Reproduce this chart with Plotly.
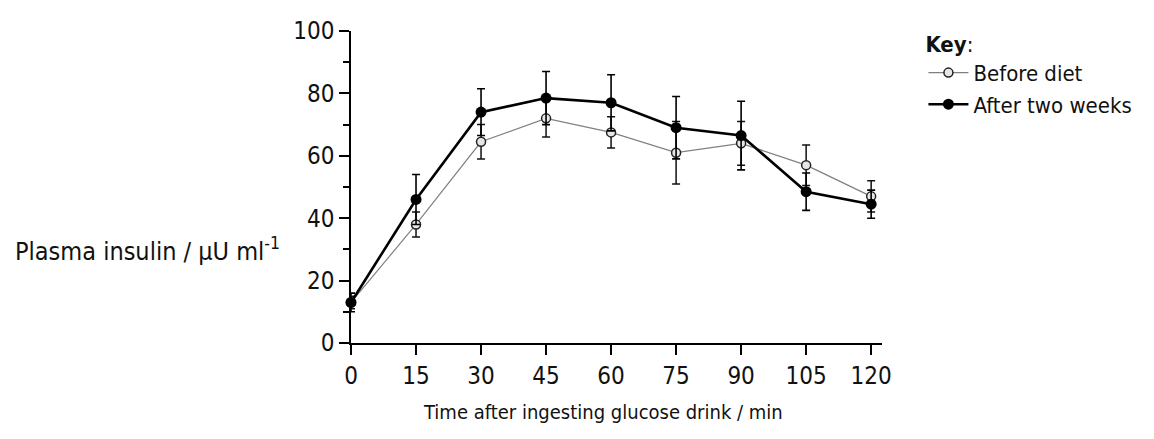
import plotly.graph_objects as go

times = [0, 15, 30, 45, 60, 75, 90, 105, 120]
before_diet = [13, 38, 64.5, 72, 67.5, 61, 64, 57, 47]
before_err = [2, 4, 5.5, 6, 5, 10, 7, 6.5, 5]
after_two_weeks = [13, 46, 74, 78.5, 77, 69, 66.5, 48.5, 44.5]
after_err = [3, 8, 7.5, 8.5, 9, 10, 11, 6, 4.5]
x_ticks = [0, 15, 30, 45, 60, 75, 90, 105, 120]
y_ticks = [0, 20, 40, 60, 80, 100]

FONT = "DejaVu Sans Condensed, Liberation Sans Narrow, sans-serif"

fig = go.Figure()
fig.add_trace(go.Scatter(
    x=times, y=before_diet, name="Before diet", mode="lines+markers",
    line=dict(color="#808080", width=1.2),
    marker=dict(symbol="circle", size=9, color="#e6e6e6", line=dict(color="#222", width=1.5)),
    error_y=dict(type="data", array=before_err, color="#111", thickness=1.5, width=4),
    cliponaxis=False,
))
fig.add_trace(go.Scatter(
    x=times, y=after_two_weeks, name="After two weeks", mode="lines+markers",
    line=dict(color="#000", width=2.6),
    marker=dict(symbol="circle", size=11, color="#000"),
    error_y=dict(type="data", array=after_err, color="#000", thickness=1.6, width=4),
    cliponaxis=False,
))

fig.update_layout(
    width=1154, height=439,
    margin=dict(l=343, r=280, t=23, b=104),
    paper_bgcolor="white", plot_bgcolor="white",
    font=dict(family=FONT, color="#111", size=22),
    showlegend=True,
    legend=dict(
        x=1.078, y=1.025, xanchor="left", yanchor="top",
        title=dict(text="<b>Key</b>:", font=dict(size=22)),
        font=dict(size=22), bgcolor="rgba(0,0,0,0)",
        itemwidth=40, tracegroupgap=0,
    ),
    xaxis=dict(
        range=[0, 122.5], tickmode="array", tickvals=x_ticks,
        ticktext=[str(v) for v in x_ticks],
        showline=True, linecolor="#000", linewidth=2,
        ticks="outside", ticklen=10, tickwidth=1.5, tickcolor="#000",
        showgrid=False, zeroline=False, automargin=False,
        tickfont=dict(size=24, family=FONT),
    ),
    yaxis=dict(
        range=[0, 100], tickmode="array", tickvals=y_ticks,
        showline=True, linecolor="#000", linewidth=1.5,
        ticks="outside", ticklen=10, tickwidth=1.5, tickcolor="#000",
        minor=dict(tickmode="array", tickvals=[10, 30, 50, 70, 90],
                   ticks="outside", ticklen=6, tickwidth=1.5, tickcolor="#000"),
        showgrid=False, zeroline=False, automargin=False,
        tickfont=dict(size=24, family=FONT),
    ),
    annotations=[
        dict(text="Plasma insulin / µU ml<sup>-1</sup>", xref="paper", yref="paper",
             x=-0.13, y=0.30, xanchor="right", yanchor="middle", showarrow=False,
             font=dict(size=25, family=FONT)),
        dict(text="Time after ingesting glucose drink / min", xref="paper", yref="paper",
             x=0.475, y=-0.22, xanchor="center", yanchor="middle", showarrow=False,
             font=dict(size=20, family=FONT)),
    ],
)

fig.write_html("out.html")
